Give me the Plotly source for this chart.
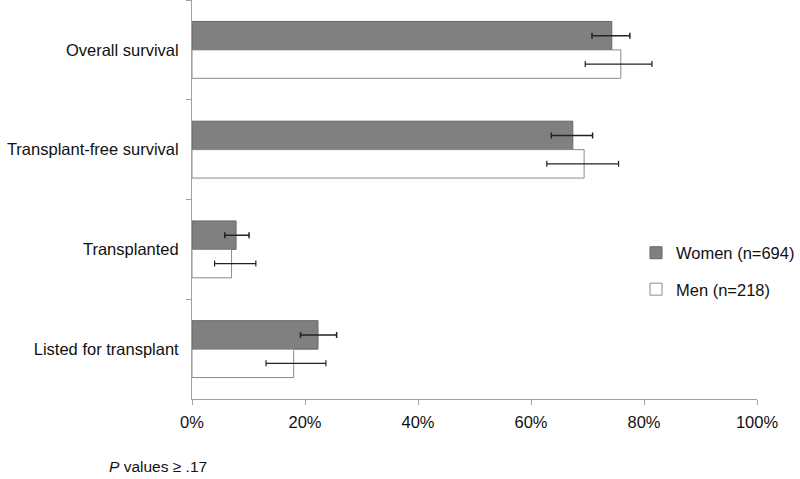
import plotly.graph_objects as go

categories = ["Overall survival", "Transplant-free survival", "Transplanted", "Listed for transplant"]
women = [74.3, 67.4, 7.8, 22.3]
women_lo = [70.8, 63.6, 5.8, 19.2]
women_hi = [77.5, 70.9, 10.1, 25.6]
men = [75.9, 69.4, 7.0, 18.0]
men_lo = [69.6, 62.8, 4.0, 13.1]
men_hi = [81.4, 75.5, 11.3, 23.7]
tick_vals = [0, 20, 40, 60, 80, 100]
tick_text = ["0%", "20%", "40%", "60%", "80%", "100%"]

FS = 16.5

fig = go.Figure()
fig.add_trace(go.Bar(
    y=categories, x=women, orientation="h", name="Women (n=694)",
    marker=dict(color="#808080", line=dict(color="#666666", width=1)),
    error_x=dict(type="data", symmetric=False,
                 array=[h - v for h, v in zip(women_hi, women)],
                 arrayminus=[v - l for v, l in zip(women, women_lo)],
                 color="#222222", thickness=1.5, width=3),
    legendgroup="w",
))
fig.add_trace(go.Bar(
    y=categories, x=men, orientation="h", name="Men (n=218)",
    marker=dict(color="#ffffff", line=dict(color="#8a8a8a", width=1)),
    error_x=dict(type="data", symmetric=False,
                 array=[h - v for h, v in zip(men_hi, men)],
                 arrayminus=[v - l for v, l in zip(men, men_lo)],
                 color="#222222", thickness=1.2, width=3),
    legendgroup="m",
))

fig.update_layout(
    width=800, height=479,
    margin=dict(l=192, r=42, t=0, b=80),
    paper_bgcolor="white", plot_bgcolor="white",
    font=dict(family="Liberation Sans, Arial, sans-serif", size=FS, color="#111111"),
    barmode="group", bargap=0.43, bargroupgap=0,
    showlegend=True,
    legend=dict(x=(637 - 192) / 566, y=(399 - 271) / 399, xanchor="left", yanchor="middle",
                traceorder="grouped", tracegroupgap=12,
                font=dict(size=FS), bgcolor="rgba(0,0,0,0)"),
    xaxis=dict(range=[0, 100], tickvals=tick_vals, ticktext=tick_text,
               showgrid=False, zeroline=False, showline=True, linecolor="#a0a0a0",
               linewidth=1, ticks="outside", ticklen=5, tickcolor="#a0a0a0",
               ticklabelstandoff=3),
    yaxis=dict(autorange="reversed", showgrid=False, showline=True, linecolor="#a0a0a0",
               linewidth=1, ticks="outside", ticklen=5, tickcolor="#a0a0a0",
               tickson="boundaries", ticklabelstandoff=9),
)
fig.add_annotation(text="<i>P</i> values ≥ .17", xref="paper", yref="paper",
                   x=(107 - 192) / 566, y=(399 - 466) / 399, xanchor="left", yanchor="middle",
                   showarrow=False, font=dict(size=15.5))
fig.write_html("out.html", config={"displayModeBar": False},
               post_script="document.body.style.margin='0px';")
